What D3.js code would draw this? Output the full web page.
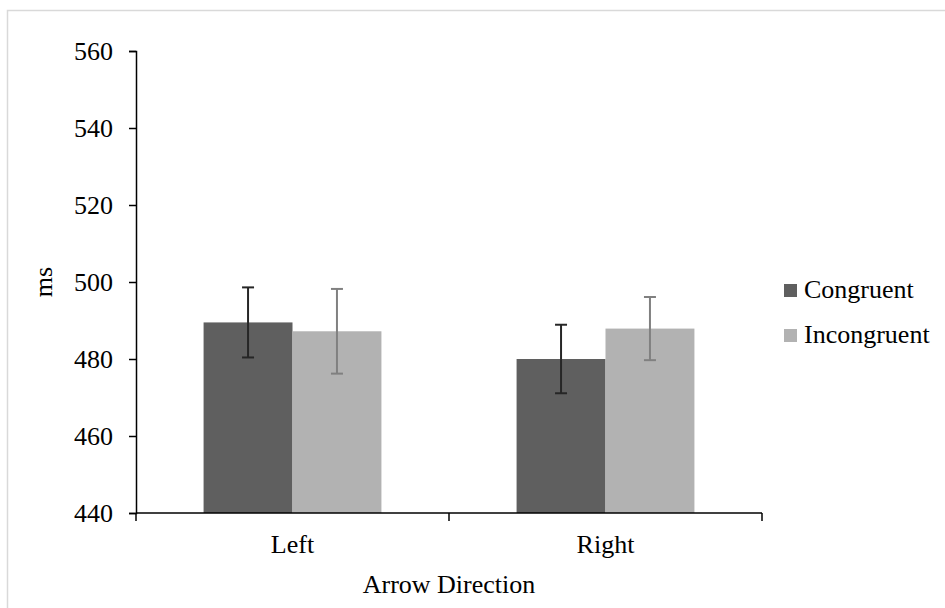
<!DOCTYPE html>
<html>
<head>
<meta charset="utf-8">
<script src="https://d3js.org/d3.v7.min.js"></script>
<style>
  body { margin: 0; background: #fff; }
  text { font-family: "Liberation Serif", "Times New Roman", serif; fill: #000; }
</style>
</head>
<body>
<script>
// data
const directions = ["Left", "Right"]
const series = ["Congruent", "Incongruent"]
const congruent = [489.5, 480.0]
const incongruent = [487.2, 487.9]
const congruentErr = [9.1, 8.9]
const incongruentErr = [11.0, 8.2]
const yTicks = [440, 460, 480, 500, 520, 540, 560]

const w = 945, h = 608
const fills = { Congruent: "#5f5f5f", Incongruent: "#b2b2b2" }
const errColors = { Congruent: "#262626", Incongruent: "#808080" }

const rows = []
directions.forEach((d, i) => {
  rows.push({ dir: d, s: "Congruent", v: congruent[i], e: congruentErr[i] })
  rows.push({ dir: d, s: "Incongruent", v: incongruent[i], e: incongruentErr[i] })
})

const svg = d3.select("body").append("svg").attr("width", w).attr("height", h)

// outer chart-area border
svg.append("rect")
  .attr("x", 7.5).attr("y", 10.5).attr("width", w).attr("height", h)
  .attr("fill", "none").attr("stroke", "#d9d9d9").attr("stroke-width", 1.5)

const y = d3.scaleLinear().domain([440, 560]).range([513, 51])
const x = d3.scaleBand().domain(directions).range([136, 762]).paddingInner(0).paddingOuter(0)
const x1 = d3.scaleBand().domain(series).range([0, x.bandwidth()]).paddingInner(0).paddingOuter(0.76)

// bars
svg.selectAll(".bar").data(rows).enter().append("rect")
  .attr("class", "bar")
  .attr("x", d => x(d.dir) + x1(d.s))
  .attr("y", d => y(d.v))
  .attr("width", x1.bandwidth())
  .attr("height", d => y(440) - y(d.v))
  .attr("fill", d => fills[d.s])

// error bars
const eb = svg.selectAll(".err").data(rows).enter().append("g")
  .attr("class", "err")
  .attr("transform", d => `translate(${x(d.dir) + x1(d.s) + x1.bandwidth() / 2},0)`)
  .attr("stroke", d => errColors[d.s]).attr("stroke-width", 2)
eb.append("line").attr("x1", 0).attr("x2", 0).attr("y1", d => y(d.v + d.e)).attr("y2", d => y(d.v - d.e))
eb.append("line").attr("x1", -6).attr("x2", 6).attr("y1", d => y(d.v + d.e)).attr("y2", d => y(d.v + d.e))
eb.append("line").attr("x1", -6).attr("x2", 6).attr("y1", d => y(d.v - d.e)).attr("y2", d => y(d.v - d.e))

// y axis
const yAxis = svg.append("g").attr("transform", "translate(136,0)")
  .call(d3.axisLeft(y).tickValues(yTicks).tickSizeOuter(0).tickSize(7).tickPadding(16))
yAxis.selectAll("path, line").attr("stroke", "#000").attr("stroke-width", 1.5)
yAxis.selectAll("text").style("font-size", "26px").attr("font-family", null)
  .attr("dy", "0.34em")

// x axis: line plus ticks at band boundaries
const xa = svg.append("g")
const xEdges = directions.map(d => x(d)).concat([x.range()[1]])
xa.append("line").attr("x1", x.range()[0]).attr("x2", x.range()[1])
  .attr("y1", y(440)).attr("y2", y(440)).attr("stroke", "#000").attr("stroke-width", 1.5)
xa.selectAll(".xt").data(xEdges).enter().append("line")
  .attr("x1", d => d).attr("x2", d => d)
  .attr("y1", y(440)).attr("y2", y(440) + 8)
  .attr("stroke", "#000").attr("stroke-width", 1.5)
xa.selectAll(".xl").data(directions).enter().append("text")
  .attr("x", d => x(d) + x.bandwidth() / 2).attr("y", 553)
  .attr("text-anchor", "middle").style("font-size", "26px")
  .text(d => d)

// axis titles
svg.append("text")
  .attr("x", (x.range()[0] + x.range()[1]) / 2).attr("y", 593)
  .attr("text-anchor", "middle").style("font-size", "26px")
  .text("Arrow Direction")
svg.append("text")
  .attr("transform", `translate(52,${(y(440) + y(560)) / 2}) rotate(-90)`)
  .attr("text-anchor", "middle").style("font-size", "26px")
  .text("ms")

// legend
const lg = svg.selectAll(".lg").data(series).enter().append("g")
  .attr("class", "lg")
  .attr("transform", (d, i) => `translate(784,${284 + i * 45})`)
lg.append("rect").attr("width", 13).attr("height", 13).attr("fill", d => fills[d])
lg.append("text").attr("x", 20).attr("y", 14).style("font-size", "26px").text(d => d)
</script>
</body>
</html>
